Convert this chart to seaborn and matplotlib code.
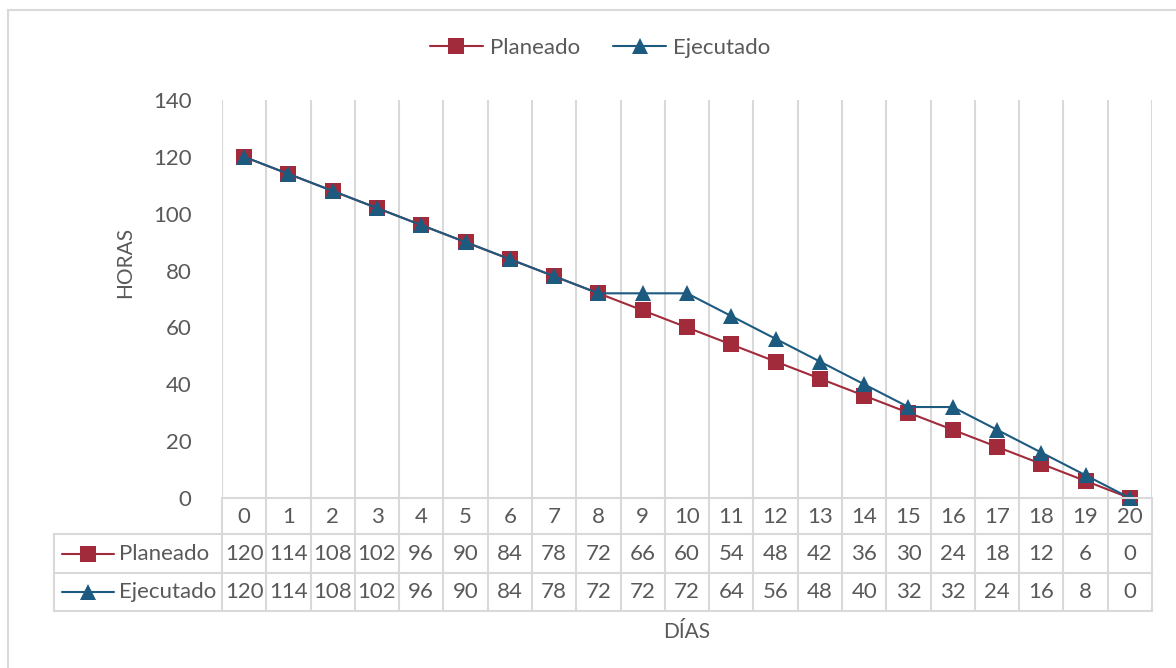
import matplotlib
matplotlib.use("Agg")
import matplotlib.pyplot as plt
import matplotlib.transforms as mtransforms
from matplotlib.lines import Line2D
from matplotlib.patches import Rectangle
import seaborn as sns
import pandas as pd

# ---- data ----
dias = list(range(21))
planeado = [120, 114, 108, 102, 96, 90, 84, 78, 72, 66, 60, 54, 48, 42, 36, 30, 24, 18, 12, 6, 0]
ejecutado = [120, 114, 108, 102, 96, 90, 84, 78, 72, 72, 72, 64, 56, 48, 40, 32, 32, 24, 16, 8, 0]
series_names = ["Planeado", "Ejecutado"]
y_ticks = [0, 20, 40, 60, 80, 100, 120, 140]
x_title = "DÍAS"
y_title = "HORAS"

# ---- style ----
RED = "#A12A3B"
BLUE = "#1C5A80"
TXT = "#595959"
GRID = "#D9D9D9"
FONT = ["Lato", "DejaVu Sans"]
FS = 16

sns.set_theme(style="white")
plt.rcParams["font.family"] = FONT

W, H = 1176, 668
fig = plt.figure(figsize=(W / 100, H / 100), dpi=100)

def fx(px):
    return px / W

def fy(py):
    return 1 - py / H

ax = fig.add_axes([fx(222), fy(498), fx(1152) - fx(222), fy(100) - fy(498)])

df = pd.DataFrame({
    "dia": dias * 2,
    "horas": planeado + ejecutado,
    "serie": [series_names[0]] * len(dias) + [series_names[1]] * len(dias),
})
palette = {series_names[0]: RED, series_names[1]: BLUE}
markers = {series_names[0]: "s", series_names[1]: "^"}
sns.lineplot(data=df, x="dia", y="horas", hue="serie", style="serie",
             palette=palette, markers=markers, dashes=False, linewidth=1.5,
             markersize=11, markeredgewidth=0, legend=False, ax=ax, zorder=3)
for ln in ax.get_lines():
    ln.set_clip_on(False)

ax.set_xlim(-0.5, len(dias) - 0.5)
ax.set_ylim(0, 140)
ax.set_yticks(y_ticks)
ax.set_xticks([])
ax.set_xlabel("")
ax.set_ylabel("")
ax.tick_params(axis="y", length=0, pad=22, labelsize=FS, labelcolor=TXT)
for s in ax.spines.values():
    s.set_visible(False)
ax.grid(False)

bounds = [d - 0.5 for d in dias] + [dias[-1] + 0.5]
# vertical gridlines at category boundaries
for b in bounds:
    ax.axvline(b, color=GRID, lw=1.5, zorder=1)

# ---- data table ----
blend = mtransforms.blended_transform_factory(ax.transData, fig.transFigure)
x0, x1 = bounds[0], bounds[-1]
right_fig = fig.transFigure.inverted().transform(ax.transData.transform((x1, 0)))[0]

fig.add_artist(Line2D([x0, x1], [fy(498)] * 2, transform=blend, color=GRID, lw=1.5))
for ry in (534, 573, 611):
    fig.add_artist(Line2D([fx(54), right_fig], [fy(ry)] * 2, transform=fig.transFigure,
                          color=GRID, lw=1.5))
for b in bounds:
    fig.add_artist(Line2D([b, b], [fy(498), fy(611)], transform=blend, color=GRID, lw=1.5))
fig.add_artist(Line2D([fx(54)] * 2, [fy(534), fy(611)], transform=fig.transFigure,
                      color=GRID, lw=1.5))

# header row
for d in dias:
    fig.text(d, fy(517), str(d), transform=blend, ha="center", va="center",
             fontsize=FS, color=TXT)
# value rows
row_centers = [553.5, 592]
colors = [RED, BLUE]
mk = ["s", "^"]
for vals, cy, name, c, m in zip([planeado, ejecutado], row_centers, series_names, colors, mk):
    for d, v in zip(dias, vals):
        fig.text(d, fy(cy), str(v), transform=blend, ha="center", va="center",
                 fontsize=FS, color=TXT)
    fig.add_artist(Line2D([fx(62), fx(114)], [fy(cy)] * 2, transform=fig.transFigure,
                          color=c, lw=1.5))
    fig.add_artist(Line2D([fx(88)], [fy(cy)], transform=fig.transFigure, color=c,
                          marker=m, markersize=11, markeredgewidth=0, linestyle="none"))
    fig.text(fx(119), fy(cy), name, ha="left", va="center", fontsize=FS, color=TXT)

# axis titles
fig.text(fx(687), fy(632), x_title, ha="center", va="center", fontsize=FS - 1, color=TXT)
fig.text(fx(125), fy(262), y_title, ha="center", va="center", rotation=90,
         fontsize=FS - 1, color=TXT)

# top legend
handles = [Line2D([], [], color=c, lw=1.5, marker=m, markersize=11, markeredgewidth=0)
           for c, m in zip(colors, mk)]
leg = fig.legend(handles, series_names, loc="center", bbox_to_anchor=(fx(600), fy(48)),
                 ncol=2, frameon=False, fontsize=FS, handlelength=2.4, handletextpad=0.3,
                 columnspacing=1.5)
for t in leg.get_texts():
    t.set_color(TXT)

# chart border
fig.add_artist(Rectangle((fx(8), -0.05), 1.1, fy(10) + 0.05, transform=fig.transFigure,
                         fill=False, edgecolor=GRID, lw=1.5, zorder=6))

fig.savefig("out.png", dpi=100)
